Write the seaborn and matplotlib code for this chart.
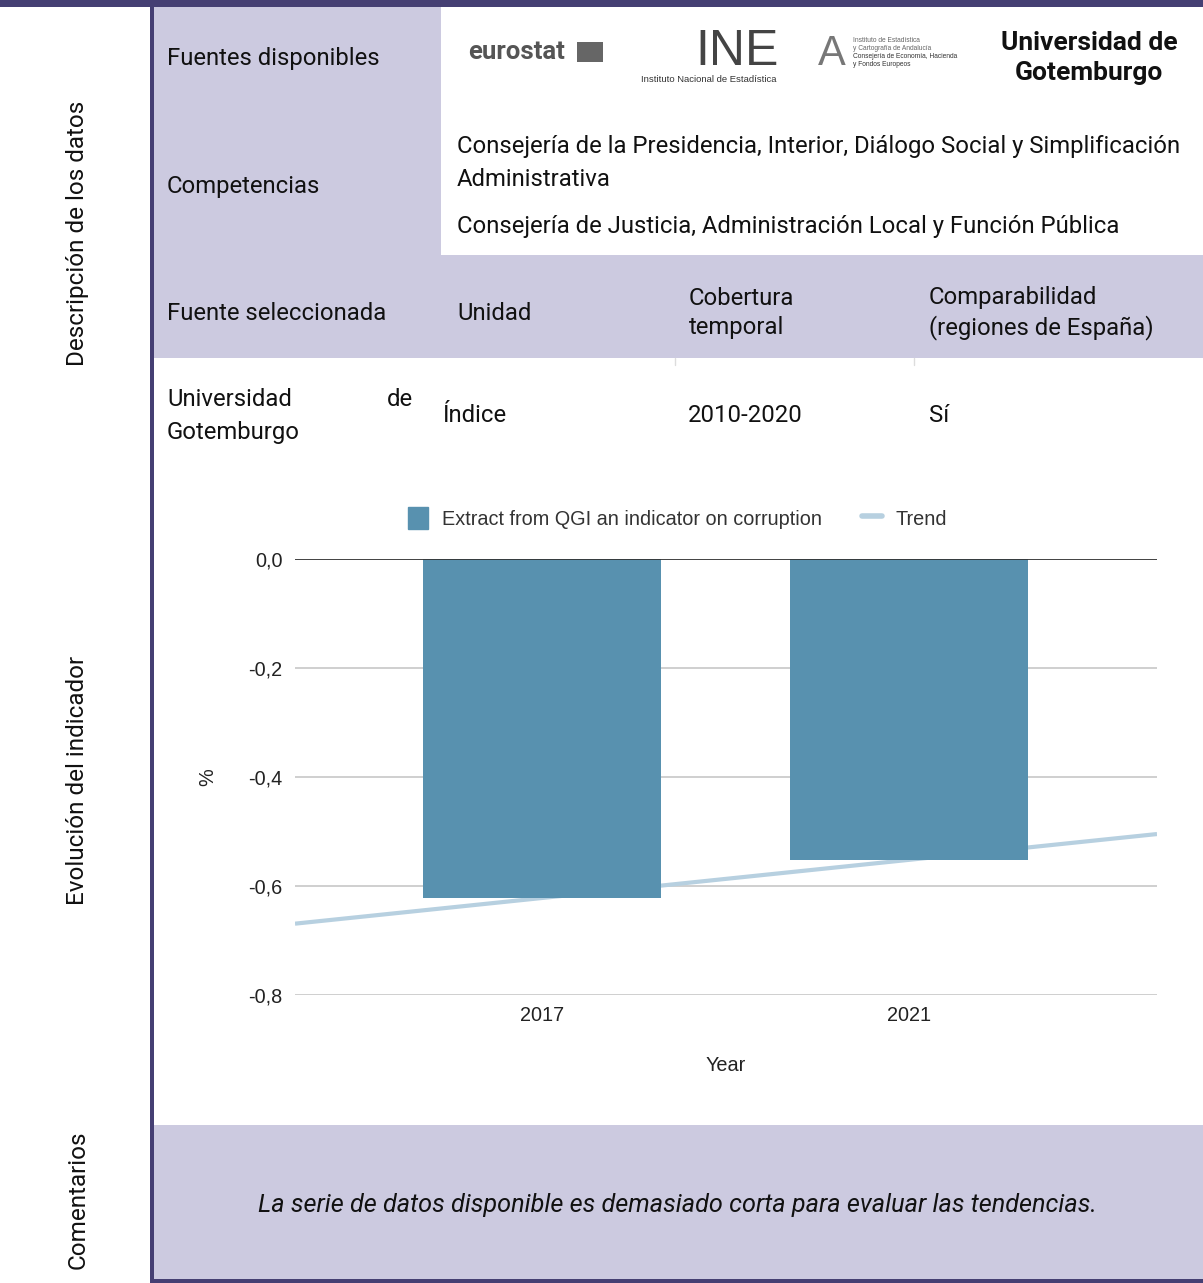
import numpy as np
import pandas as pd
import seaborn as sns
import matplotlib.pyplot as plt
from matplotlib.patches import Rectangle
from matplotlib.lines import Line2D

# chart data
years = ["2017", "2021"]
values = [-0.622, -0.552]
yticks = [0.0, -0.2, -0.4, -0.6, -0.8]
bar_label = "Extract from QGI an indicator on corruption"
trend_label = "Trend"

# table texts
header_cols = ["Fuente seleccionada", "Unidad", "Cobertura\ntemporal", "Comparabilidad\n(regiones de España)"]
row_cols = ["Índice", "2010-2020", "Sí"]
competencias = ["Consejería de la Presidencia, Interior, Diálogo Social y Simplificación",
                "Administrativa",
                "Consejería de Justicia, Administración Local y Función Pública"]
comentario = "La serie de datos disponible es demasiado corta para evaluar las tendencias."

DARK = "#453f73"
LAV = "#cccae0"
BAR = "#5891af"
TREND = "#b7d0e0"
PAGE_FONT = ["Roboto", "DejaVu Sans"]
CHART_FONT = ["Liberation Sans", "DejaVu Sans"]
FS = 17.2
CFS = 14.3

sns.set_theme(style="white")
plt.rcParams["font.family"] = PAGE_FONT

W, H = 1203, 1283
fig = plt.figure(figsize=(W / 100, H / 100), dpi=100)

# page background in pixel coordinates
bg = fig.add_axes([0, 0, 1, 1])
bg.set_xlim(0, W)
bg.set_ylim(H, 0)
bg.axis("off")

def box(x0, y0, x1, y1, c):
    bg.add_patch(Rectangle((x0, y0), x1 - x0, y1 - y0, color=c, lw=0))

box(153, 7, 441, 358, LAV)
box(153, 255, W, 358, LAV)
box(153, 1125, W, 1279, LAV)
box(0, 0, W, 7, DARK)
box(150, 0, 154, H, DARK)
box(150, 1279, W, H, DARK)
for xx in [675, 914]:
    bg.plot([xx, xx], [358, 365], color="#dddddd", lw=1)

tk = dict(fontsize=FS, color="#111111", va="center")
bg.text(167, 58, "Fuentes disponibles", **tk)
bg.text(167, 187, "Competencias", **tk)
bg.text(457, 147, competencias[0], **tk)
bg.text(457, 179, competencias[1], **tk)
bg.text(457, 226, competencias[2], **tk)

for x, t in zip([167, 457, 689, 929], header_cols):
    bg.text(x, 313, t, linespacing=1.3, **tk)
bg.text(167, 400, "Universidad", **tk)
bg.text(413, 400, "de", ha="right", fontsize=FS, color="#111111", va="center")
bg.text(167, 432, "Gotemburgo", **tk)
for x, t in zip([443, 688, 929], row_cols):
    bg.text(x, 416, t, **tk)

bg.text(677, 1205, comentario, ha="center", fontsize=18.2, style="italic",
        color="#111111", va="center")

for y, t in [(233, "Descripción de los datos"), (780, "Evolución del indicador"), (1200, "Comentarios")]:
    bg.text(78, y, t, rotation=90, ha="center", va="center", fontsize=17.5, color="#111111")

# logos as text
bg.text(468, 52, "eurostat", fontsize=18.5, fontweight="bold", color="#555555", va="center")
bg.add_patch(Rectangle((577, 42), 26, 20, color="#666666", lw=0))
bg.text(737, 52, "INE", fontsize=36, color="#444444", ha="center", va="center",
        family=["Liberation Sans Narrow", "Liberation Sans"])
bg.text(709, 80, "Instituto Nacional de Estadística", fontsize=6.8, color="#333333",
        ha="center", va="center", family=CHART_FONT)
bg.text(832, 54, "A", fontsize=30, color="#777777", ha="center", va="center", family=CHART_FONT)
for i, t in enumerate(["Instituto de Estadística", "y Cartografía de Andalucía",
                       "Consejería de Economía, Hacienda", "y Fondos Europeos"]):
    bg.text(853, 40 + i * 8, t, fontsize=4.8, color="#666666" if i < 2 else "#333333",
            va="center", family=CHART_FONT)
bg.text(1089, 58, "Universidad de\nGotemburgo", fontsize=19, fontweight="bold",
        ha="center", va="center", linespacing=1.3, color="#111111")

# chart
ax = fig.add_axes([295 / W, (H - 995) / H, 862 / W, 436 / H])
ax.set_facecolor("none")
df = pd.DataFrame({"Year": years, "value": values})
sns.barplot(data=df, x="Year", y="value", color=BAR, width=0.65, ax=ax,
            saturation=1, zorder=3, linewidth=0)
ax.set_xlim(-0.673, 1.676)
ax.set_ylim(-0.8, 0.0)

pos = np.arange(len(values))
slope, icpt = np.polyfit(pos, values, 1)
xs = np.array(ax.get_xlim())
ax.plot(xs, icpt + slope * xs, color=TREND, lw=3, zorder=2, solid_capstyle="butt")

for t in yticks[1:]:
    ax.axhline(t, color="#cccccc", lw=1.3, zorder=1)
ax.axhline(0, color="#333333", lw=1.3, zorder=4)
ax.set_yticks(yticks)
ax.set_yticklabels([f"{t:.1f}".replace(".", ",") for t in yticks],
                   family=CHART_FONT, fontsize=CFS, color="#222222")
ax.tick_params(axis="y", length=0, pad=9)
ax.tick_params(axis="x", length=0, pad=8)
for lab in ax.get_xticklabels():
    lab.set_fontfamily(CHART_FONT)
    lab.set_fontsize(CFS)
    lab.set_color("#222222")
ax.set_xlabel("Year", family=CHART_FONT, fontsize=CFS, color="#222222", labelpad=22)
ax.set_ylabel("%", family=CHART_FONT, fontsize=CFS, color="#222222", labelpad=22)
sns.despine(ax=ax, left=True, bottom=True)

handles = [Rectangle((0, 0), 1, 1, color=BAR),
           Line2D([0], [0], color=TREND, lw=4)]
ax.legend(handles, [bar_label, trend_label], loc="center", ncol=2, frameon=False,
          bbox_to_anchor=(0.444, 1.094), prop={"family": CHART_FONT, "size": CFS},
          handlelength=1.0, handleheight=1.3, columnspacing=2.0, handletextpad=0.7,
          labelcolor="#333333")

fig.savefig("out.png", dpi=100)
